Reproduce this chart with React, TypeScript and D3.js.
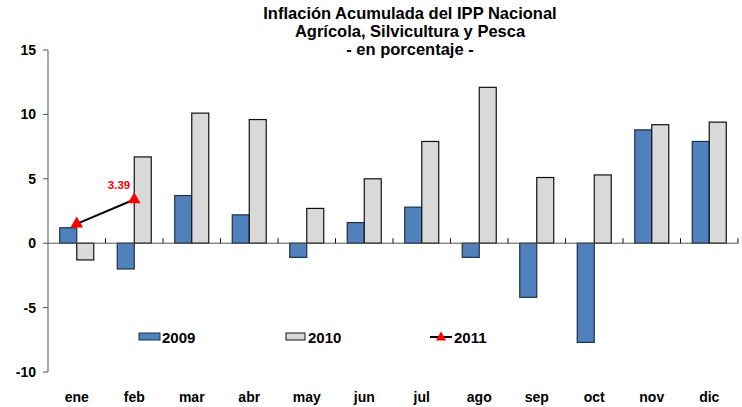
import React, { useRef, useEffect } from "react";
import * as d3 from "d3";

const months = ["ene", "feb", "mar", "abr", "may", "jun", "jul", "ago", "sep", "oct", "nov", "dic"];
const values2009 = [1.2, -2.0, 3.7, 2.2, -1.1, 1.6, 2.8, -1.1, -4.2, -7.7, 8.8, 7.9];
const values2010 = [-1.3, 6.7, 10.1, 9.6, 2.7, 5.0, 7.9, 12.1, 5.1, 5.3, 9.2, 9.4];
const values2011 = [1.5, 3.39];
const yTicks = [-10, -5, 0, 5, 10, 15];
const titleLines = ["Inflación Acumulada del IPP Nacional", "Agrícola, Silvicultura y Pesca", "- en porcentaje -"];

const FONT = "'Liberation Sans Narrow', 'Liberation Sans', Arial, sans-serif";

const App = () => {
  const svgRef = useRef<SVGSVGElement>(null);

  useEffect(() => {
    const width = 742;
    const height = 407;
    const margin = { left: 48, right: 4, top: 50, bottom: 35 };

    const svg = d3.select(svgRef.current);
    svg.selectAll("*").remove();
    svg.attr("width", width).attr("height", height);

    const x = d3
      .scaleBand()
      .domain(months)
      .range([margin.left, width - margin.right])
      .paddingInner(0)
      .paddingOuter(0);
    const y = d3.scaleLinear().domain([-10, 15]).range([372, 50]);

    const barW = 17;

    // title
    svg
      .append("g")
      .selectAll("text")
      .data(titleLines)
      .enter()
      .append("text")
      .attr("x", 410)
      .attr("y", (_, i) => 19 + i * 18)
      .attr("text-anchor", "middle")
      .style("font-family", FONT)
      .style("font-weight", "bold")
      .style("font-size", "16.5px")
      .text((d) => d);

    // y axis
    svg
      .append("line")
      .attr("x1", margin.left)
      .attr("x2", margin.left)
      .attr("y1", y(15))
      .attr("y2", y(-10))
      .attr("stroke", "#555")
      .attr("stroke-width", 1);

    const yg = svg.append("g");
    yg.selectAll("line")
      .data(yTicks)
      .enter()
      .append("line")
      .attr("x1", margin.left - 5)
      .attr("x2", margin.left)
      .attr("y1", (d) => y(d))
      .attr("y2", (d) => y(d))
      .attr("stroke", "#555");
    yg.selectAll("text")
      .data(yTicks)
      .enter()
      .append("text")
      .attr("x", 36)
      .attr("y", (d) => y(d) + 5)
      .attr("text-anchor", "end")
      .style("font-family", FONT)
      .style("font-weight", "bold")
      .style("font-size", "14px")
      .text((d) => d);

    // bars 2009
    svg
      .append("g")
      .selectAll("rect")
      .data(values2009)
      .enter()
      .append("rect")
      .attr("x", (_, i) => x(months[i])! + x.bandwidth() / 2 - barW)
      .attr("y", (d) => y(Math.max(0, d)))
      .attr("width", barW)
      .attr("height", (d) => Math.abs(y(d) - y(0)))
      .attr("fill", "#4F81BD")
      .attr("stroke", "#1F2F45")
      .attr("stroke-width", 1.2);

    // bars 2010
    svg
      .append("g")
      .selectAll("rect")
      .data(values2010)
      .enter()
      .append("rect")
      .attr("x", (_, i) => x(months[i])! + x.bandwidth() / 2)
      .attr("y", (d) => y(Math.max(0, d)))
      .attr("width", barW)
      .attr("height", (d) => Math.abs(y(d) - y(0)))
      .attr("fill", "#D9D9D9")
      .attr("stroke", "#111")
      .attr("stroke-width", 1.2);

    // zero line + category ticks
    svg
      .append("line")
      .attr("x1", margin.left)
      .attr("x2", width - margin.right)
      .attr("y1", y(0))
      .attr("y2", y(0))
      .attr("stroke", "#555");
    svg
      .append("g")
      .selectAll("line")
      .data(months)
      .enter()
      .append("line")
      .attr("x1", (d) => x(d)! + x.bandwidth())
      .attr("x2", (d) => x(d)! + x.bandwidth())
      .attr("y1", y(0) - 5)
      .attr("y2", y(0))
      .attr("stroke", "#111");

    // x labels
    svg
      .append("g")
      .selectAll("text")
      .data(months)
      .enter()
      .append("text")
      .attr("x", (d) => x(d)! + x.bandwidth() / 2)
      .attr("y", 402)
      .attr("text-anchor", "middle")
      .style("font-family", FONT)
      .style("font-weight", "bold")
      .style("font-size", "14px")
      .text((d) => d);

    // 2011 line
    const cx = (i: number) => x(months[i])! + x.bandwidth() / 2;
    const line = d3
      .line<number>()
      .x((_, i) => cx(i))
      .y((d) => y(d));
    svg
      .append("path")
      .datum(values2011)
      .attr("d", line)
      .attr("fill", "none")
      .attr("stroke", "#000")
      .attr("stroke-width", 2);
    const tri = d3.symbol().type(d3.symbolTriangle).size(70);
    svg
      .append("g")
      .selectAll("path")
      .data(values2011)
      .enter()
      .append("path")
      .attr("d", tri)
      .attr("transform", (d, i) => `translate(${cx(i)},${y(d)})`)
      .attr("fill", "#FF0000");
    svg
      .append("text")
      .attr("x", cx(1) - 4)
      .attr("y", y(values2011[1]) - 11)
      .attr("text-anchor", "end")
      .attr("fill", "#FF0000")
      .style("font-family", "'Liberation Sans', Arial, sans-serif")
      .style("font-weight", "bold")
      .style("font-size", "11.5px")
      .text(values2011[1].toFixed(2));

    // legend
    const lg = svg.append("g");
    lg.append("rect").attr("x", 139).attr("y", 333).attr("width", 21).attr("height", 7)
      .attr("fill", "#4F81BD").attr("stroke", "#1F2F45");
    lg.append("rect").attr("x", 286).attr("y", 333).attr("width", 19).attr("height", 7)
      .attr("fill", "#D9D9D9").attr("stroke", "#111");
    lg.append("line").attr("x1", 430).attr("x2", 452).attr("y1", 337).attr("y2", 337)
      .attr("stroke", "#000").attr("stroke-width", 2);
    lg.append("path").attr("d", d3.symbol().type(d3.symbolTriangle).size(45))
      .attr("transform", "translate(441,337.5)").attr("fill", "#FF0000");
    const legendItems = [
      { label: "2009", x: 162 },
      { label: "2010", x: 308 },
      { label: "2011", x: 454 },
    ];
    lg.selectAll("text")
      .data(legendItems)
      .enter()
      .append("text")
      .attr("x", (d) => d.x)
      .attr("y", 343)
      .style("font-family", "'Liberation Sans', Arial, sans-serif")
      .style("font-weight", "bold")
      .style("font-size", "15px")
      .text((d) => d.label);
  }, []);

  return (
    <div style={{ position: "absolute", left: 0, top: 0, width: 742, height: 407, background: "#fff" }}>
      <svg ref={svgRef} style={{ display: "block" }}></svg>
    </div>
  );
};

export default App;
